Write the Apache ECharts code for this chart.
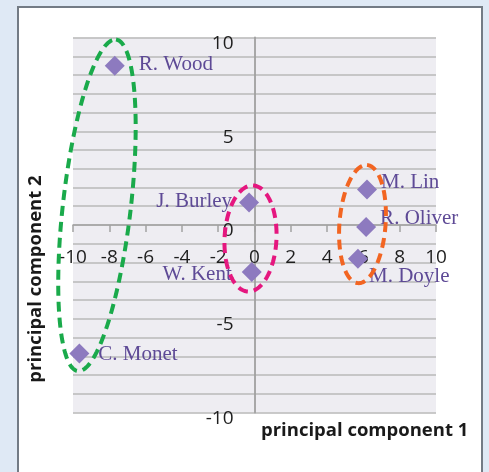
<!DOCTYPE html>
<html><head><meta charset="utf-8">
<script src="https://cdn.jsdelivr.net/npm/echarts@6/dist/echarts.min.js"></script>
<style>
html,body{margin:0;padding:0;background:#dfe9f5;width:489px;height:472px;overflow:hidden;}
#panel{position:absolute;left:17px;top:6px;width:466px;height:480px;background:#fff;border:2px solid #737b85;box-sizing:border-box;}
#c{position:absolute;left:0;top:0;width:489px;height:472px;}
</style>
</head><body><div id="panel"></div><div id="c"></div>
<script>
// ---- data ----
const names = ['R. Wood', 'J. Burley', 'W. Kent', 'M. Lin', 'R. Oliver', 'M. Doyle', 'C. Monet'];
const pc1 = [-7.7, -0.3, -0.15, 6.2, 6.15, 5.7, -9.65];
const pc2 = [8.5, 1.2, -2.5, 1.9, -0.1, -1.8, -6.85];
const xTickLabels = [-10, -8, -6, -4, -2, 0, 2, 4, 6, 8, 10];
const yTickLabels = [-10, -5, 0, 5, 10];
// group outlines (data units): centre, tip of long axis, half width
const groupCx = [-8.68, -0.22, 5.95];
const groupCy = [1.05, -0.72, 0.05];
const groupTipX = [-7.63, -0.08, 6.2];
const groupTipY = [9.89, 2.11, 3.2];
const groupHalfW = [1.87, 1.43, 1.27];

// ---- styling (kept separate) ----
const groupColors = ['#1aaa4b', '#e5177f', '#f26522'];
const labelSide = ['right', 'left', 'left', 'right', 'right', 'right', 'right'];
const labelGap = [14, 7, 10, 4, 4, 1, 9];
const labelShift = [-1, -1, 3, -7, -8, 18, 1];

const GRID = {left: 73, right: 53, top: 37.5, bottom: 59.5};
const plotW = 489 - GRID.left - GRID.right;
const plotH = 472 - GRID.top - GRID.bottom;

const chart = echarts.init(document.getElementById('c'), null, {renderer: 'canvas'});

const pts = names.map((n, i) => ({
  name: n,
  value: [pc1[i], pc2[i]],
  label: {position: labelSide[i], distance: labelGap[i], offset: [0, labelShift[i]]}
}));

const groups = groupCx.map((c, i) => ({
  value: [groupCx[i], groupCy[i], groupTipX[i], groupTipY[i], groupHalfW[i]]
}));

function renderEllipse(params, api) {
  const c = api.coord([api.value(0), api.value(1)]);
  const t = api.coord([api.value(2), api.value(3)]);
  const a = Math.hypot(t[0] - c[0], t[1] - c[1]);
  const ang = Math.atan2(t[1] - c[1], t[0] - c[0]);
  const b = api.size([api.value(4), 0])[0];
  const pts = [];
  const N = 160;
  for (let k = 0; k < N; k++) {
    const th = 2 * Math.PI * k / N;
    const lx = a * Math.cos(th), ly = b * Math.sin(th);
    pts.push([c[0] + lx * Math.cos(ang) - ly * Math.sin(ang),
              c[1] + lx * Math.sin(ang) + ly * Math.cos(ang)]);
  }
  return {
    type: 'polygon',
    shape: {points: pts},
    style: {fill: 'none', stroke: groupColors[params.dataIndex], lineWidth: 4, lineDash: [10, 6]}
  };
}

chart.setOption({
  animation: false,
  backgroundColor: 'transparent',
  grid: Object.assign({show: true, backgroundColor: '#eeedf2', borderWidth: 0}, GRID),
  xAxis: {
    type: 'value', min: -10, max: 10, interval: 2,
    offset: -plotH / 2,
    axisLine: {onZero: false, lineStyle: {color: '#a3a3a3', width: 1.5}},
    axisTick: {show: true, length: 7, lineStyle: {color: '#a3a3a3', width: 1.5}},
    splitLine: {show: false},
    axisLabel: {
      margin: 23, fontFamily: 'Open Sans', fontSize: 19, lineHeight: 20, color: '#1e1e1e',
      formatter: v => xTickLabels.includes(v) ? String(v) : ''
    }
  },
  yAxis: {
    type: 'value', min: -10, max: 10, interval: 1,
    offset: -plotW / 2,
    axisLine: {onZero: false, lineStyle: {color: '#a0a0a0', width: 1.8}},
    axisTick: {show: false},
    splitLine: {show: true, lineStyle: {color: '#b9b9b9', width: 1.5}},
    axisLabel: {
      margin: 21, fontFamily: 'Open Sans', fontSize: 19, lineHeight: 12, color: '#1e1e1e',
      verticalAlign: 'top',
      formatter: v => yTickLabels.includes(v) ? String(v) : ''
    }
  },
  graphic: [
    {type: 'text', left: 261, top: 421, style: {text: 'principal component 1', font: 'bold 18.5px "Open Sans"', fill: '#1a1a1a'}},
    {type: 'text', x: 36, y: 279, rotation: Math.PI / 2,
     style: {text: 'principal component 2', font: 'bold 18.5px "Open Sans"', fill: '#1a1a1a', align: 'center', verticalAlign: 'middle'}}
  ],
  series: [
    {
      type: 'scatter', data: pts, symbol: 'diamond', symbolSize: 20,
      itemStyle: {color: '#8d7abf', opacity: 1},
      label: {show: true, formatter: '{b}', fontFamily: 'Liberation Serif', fontSize: 21, color: '#5e4a96'},
      z: 3
    },
    {
      type: 'custom', data: groups, renderItem: renderEllipse, clip: false,
      encode: {x: [0, 2], y: [1, 3]}, z: 5, silent: true
    }
  ]
});
</script>
</body></html>
